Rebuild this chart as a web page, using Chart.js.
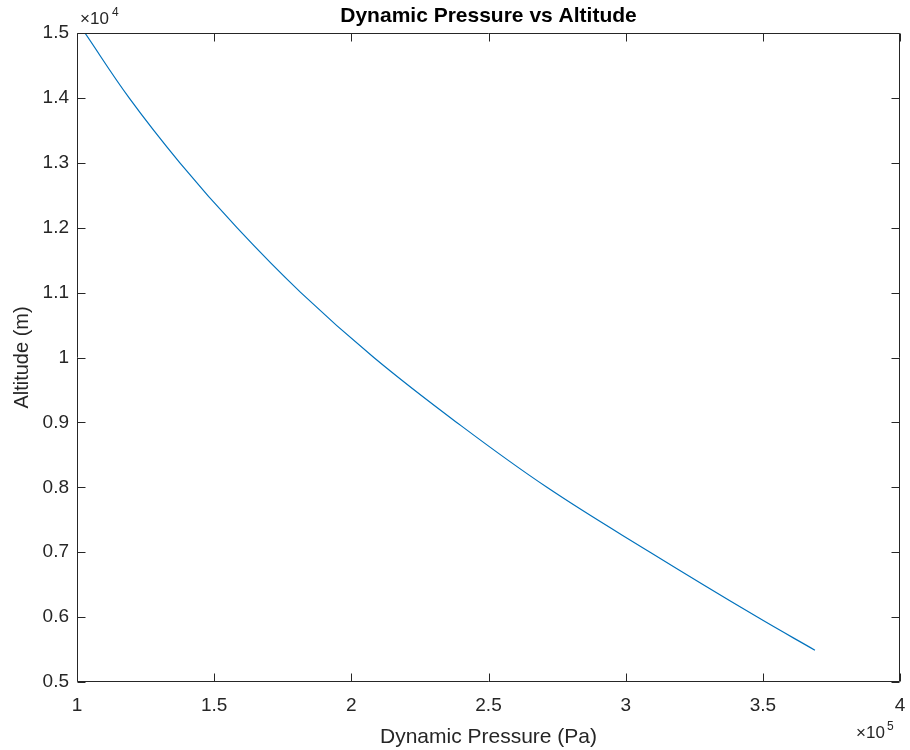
<!DOCTYPE html>
<html>
<head>
<meta charset="utf-8">
<title>Dynamic Pressure vs Altitude</title>
<script src="https://cdn.jsdelivr.net/npm/chart.js"></script>
<style>
  html, body { margin: 0; padding: 0; background: #fff; overflow: hidden; }
  #wrap { width: 910px; height: 750px; position: relative; }
</style>
</head>
<body>
<div id="wrap"><canvas id="chart"></canvas></div>
<script>
// values (Pa, m), one reading per altitude tick
const pressure = [102900, 119000, 137500, 158300, 181600, 208200, 238400, 271300, 308900, 348000, 369000];
const altitude = [15000, 14000, 13000, 12000, 11000, 10000, 9000, 8000, 7000, 6000, 5490];

const xTicks = [100000, 150000, 200000, 250000, 300000, 350000, 400000];
const yTicks = [5000, 6000, 7000, 8000, 9000, 10000, 11000, 12000, 13000, 14000, 15000];

const axisColor = '#262626';
const fontFamily = '"Liberation Sans", Arial, Helvetica, sans-serif';

const points = pressure.map((p, i) => ({ x: p, y: altitude[i] }));

// box, inward ticks, title and exponent labels, drawn like matlab axes
const boxPlugin = {
  id: 'boxPlugin',
  afterDraw(chart) {
    const ctx = chart.ctx;
    const a = chart.chartArea;
    const xs = chart.scales.x;
    const ys = chart.scales.y;
    const L = Math.round(a.left) + 0.5, R = Math.round(a.right) - 0.5;
    const T = Math.round(a.top) + 0.5, B = Math.round(a.bottom) - 0.5;
    ctx.save();
    ctx.lineWidth = 1;
    ctx.strokeStyle = axisColor;
    ctx.beginPath();
    ctx.moveTo(L, T); ctx.lineTo(R, T); ctx.lineTo(R, B); ctx.lineTo(L, B); ctx.closePath();
    ctx.stroke();

    // tick marks on all four sides
    const tl = 8;
    ctx.beginPath();
    xTicks.forEach(v => {
      const px = Math.round(xs.getPixelForValue(v)) + 0.5;
      ctx.moveTo(px, B); ctx.lineTo(px, B - tl);
      ctx.moveTo(px, T); ctx.lineTo(px, T + tl);
    });
    yTicks.forEach(v => {
      const py = Math.round(ys.getPixelForValue(v)) + 0.5;
      ctx.moveTo(L, py); ctx.lineTo(L + tl, py);
      ctx.moveTo(R, py); ctx.lineTo(R - tl, py);
    });
    ctx.stroke();

    // title
    ctx.fillStyle = '#000';
    ctx.font = 'bold 21px ' + fontFamily;
    ctx.textAlign = 'center';
    ctx.textBaseline = 'alphabetic';
    ctx.fillText('Dynamic Pressure vs Altitude', (a.left + a.right) / 2, 22);

    // exponent labels
    ctx.fillStyle = axisColor;
    ctx.textAlign = 'left';
    ctx.font = '17px ' + fontFamily;
    ctx.fillText('\u00d710', 80, 24);
    ctx.font = '12px ' + fontFamily;
    ctx.fillText('4', 112, 16);
    ctx.font = '17px ' + fontFamily;
    ctx.fillText('\u00d710', 856, 738);
    ctx.font = '12px ' + fontFamily;
    ctx.fillText('5', 887, 730);
    ctx.restore();
  }
};

new Chart(document.getElementById('chart'), {
  type: 'line',
  data: {
    datasets: [{
      data: points,
      borderColor: '#0072BD',
      borderWidth: 1.2,
      pointRadius: 0,
      fill: false,
      tension: 0.4
    }]
  },
  options: {
    responsive: true,
    maintainAspectRatio: false,
    animation: false,
    layout: { padding: { top: 33, right: 10, left: 0, bottom: 0 } },
    plugins: {
      legend: { display: false },
      tooltip: { enabled: false },
      title: { display: false }
    },
    scales: {
      x: {
        type: 'linear',
        min: 100000,
        max: 400000,
        afterFit(scale) {
          scale.height = 68;
          scale.paddingLeft = 0;
          scale.paddingRight = 0;
        },
        afterBuildTicks(scale) { scale.ticks = xTicks.map(v => ({ value: v })); },
        grid: { display: false, drawTicks: false },
        border: { display: false },
        ticks: {
          color: axisColor,
          font: { family: fontFamily, size: 19 },
          padding: 12,
          maxRotation: 0,
          callback: v => String(Number((v / 1e5).toFixed(1)))
        },
        title: {
          display: true,
          text: 'Dynamic Pressure (Pa)',
          color: axisColor,
          font: { family: fontFamily, size: 21 },
          padding: { top: 1, bottom: 0 }
        }
      },
      y: {
        type: 'linear',
        min: 5000,
        max: 15000,
        afterFit(scale) {
          scale.width = 77;
          scale.paddingTop = 0;
          scale.paddingBottom = 0;
        },
        afterBuildTicks(scale) { scale.ticks = yTicks.map(v => ({ value: v })); },
        grid: { display: false, drawTicks: false },
        border: { display: false },
        ticks: {
          color: axisColor,
          font: { family: fontFamily, size: 19 },
          padding: 8,
          callback: v => String(Number((v / 1e4).toFixed(1)))
        },
        title: {
          display: true,
          text: 'Altitude (m)',
          color: axisColor,
          font: { family: fontFamily, size: 20 },
          padding: { top: 10, bottom: 0 }
        }
      }
    }
  },
  plugins: [boxPlugin]
});
</script>
</body>
</html>
